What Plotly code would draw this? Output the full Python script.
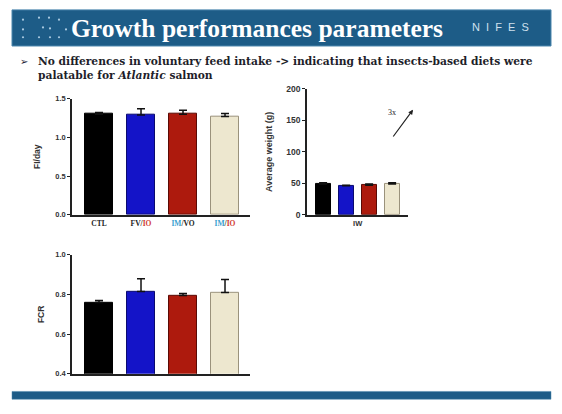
import plotly.graph_objects as go

# ---------------- data ----------------
diets = ["CTL", "FV/IO", "IM/VO", "IM/IO"]
diet_ticktext = [
    "CTL",
    "FV/<span style='color:#d23a30'>IO</span>",
    "<span style='color:#3a9fd0'>IM</span>/VO",
    "<span style='color:#3a9fd0'>IM</span>/<span style='color:#d23a30'>IO</span>",
]
fi_day = [1.30, 1.29, 1.30, 1.27]
fi_day_err = [0.02, 0.08, 0.05, 0.04]
weight_iw = [49, 46, 47, 49]
weight_iw_err = [2, 1, 2, 2]
fcr = [0.76, 0.815, 0.795, 0.81]
fcr_err = [0.01, 0.065, 0.01, 0.065]
bar_colors = ["#000000", "#1414c8", "#ad1a0d", "#ede7cf"]
bar_lines = ["#000000", "#0a0a70", "#5a0a05", "#9a927c"]

W, H = 562, 414
def px(x):
    return x / W
def py(y):
    return 1 - y / H

fig = go.Figure()
xs = list(range(len(diets)))

def add_bars(vals, errs, xa, ya, width):
    fig.add_trace(go.Bar(
        x=xs, y=vals, width=width, xaxis=xa, yaxis=ya,
        marker=dict(color=bar_colors, line=dict(color=bar_lines, width=1)),
        error_y=dict(type="data", array=errs, arrayminus=[0] * len(errs),
                     symmetric=False, color="#111111", thickness=1.5, width=4),
        hoverinfo="skip",
    ))

add_bars(fi_day, fi_day_err, "x", "y", 0.667)
add_bars(weight_iw, weight_iw_err, "x2", "y2", 0.65)
add_bars(fcr, fcr_err, "x3", "y3", 0.667)

axis_common = dict(showgrid=False, zeroline=False, showline=True,
                   linecolor="#222222", linewidth=1.5)
tickfont = dict(family="Liberation Sans", size=7.5, color="#333333", weight="bold")
ytitle_font = dict(family="Liberation Sans", size=8.5, color="#333333", weight="bold")

fig.update_layout(
    width=W, height=H, margin=dict(l=0, r=0, t=0, b=0),
    paper_bgcolor="white", plot_bgcolor="white", showlegend=False,
    bargap=0,
    xaxis=dict(domain=[px(72), px(250)], range=[-0.643, 3.595], anchor="y",
               tickvals=xs, ticktext=diet_ticktext, ticks="",
               tickfont=dict(family="Liberation Serif", size=7.5, color="#222222", weight="bold"),
               **axis_common),
    yaxis=dict(domain=[py(215), py(96)], range=[0, 1.5], anchor="x",
               tickvals=[0, 0.5, 1.0, 1.5], tickformat=".1f",
               ticks="outside", ticklen=3, tickwidth=1, tickcolor="#222222",
               tickfont=tickfont,
               title=dict(text="FI/day", font=ytitle_font, standoff=13),
               **axis_common),
    xaxis2=dict(domain=[px(307), px(408)], range=[-0.7, 3.69], anchor="y2",
                tickvals=[1.5], ticktext=["IW"], ticks="",
                tickfont=dict(family="Liberation Sans", size=7.5, color="#333333", weight="bold"),
                **axis_common),
    yaxis2=dict(domain=[py(215), py(86)], range=[0, 200], anchor="x2",
                tickvals=[0, 50, 100, 150, 200],
                ticks="outside", ticklen=3, tickwidth=1, tickcolor="#222222",
                tickfont=dict(family="Liberation Sans", size=8.5, color="#333333", weight="bold"),
                title=dict(text="Average weight (g)", font=dict(family="Liberation Sans", size=9, color="#333333", weight="bold"), standoff=12),
                **axis_common),
    xaxis3=dict(domain=[px(72), px(250)], range=[-0.643, 3.595], anchor="y3",
                tickvals=xs, ticktext=["", "", "", ""], ticks="",
                **axis_common),
    yaxis3=dict(domain=[py(378), py(256)], range=[0.4, 1.0], anchor="x3",
                tickvals=[0.4, 0.6, 0.8, 1.0], tickformat=".1f",
                ticks="outside", ticklen=3, tickwidth=1, tickcolor="#222222",
                tickfont=tickfont,
                title=dict(text="FCR", font=ytitle_font, standoff=9),
                **axis_common),
)

shapes = []
# title bar
shapes.append(dict(type="rect", xref="paper", yref="paper",
                   x0=px(12), x1=px(551), y0=py(42), y1=py(5),
                   fillcolor="#1d5c87", line=dict(color="#4a86ad", width=1), layer="below"))
# bottom stripe
shapes.append(dict(type="rect", xref="paper", yref="paper",
                   x0=px(12), x1=px(551), y0=py(404), y1=py(396),
                   fillcolor="#1d5c87", line=dict(color="#4a86ad", width=0.5), layer="below"))
# decorative dots in title bar
dots = [(23, 15), (39, 13), (49, 13), (59, 15), (23, 25), (43, 23), (50, 24),
        (66, 25), (23, 33), (39, 33), (50, 33), (59, 33)]
for (dx, dy) in dots:
    shapes.append(dict(type="circle", xref="paper", yref="paper",
                       x0=px(dx - 1.1), x1=px(dx + 1.1), y0=py(dy + 1.1), y1=py(dy - 1.1),
                       fillcolor="#a9c9e0", line=dict(width=0)))
fig.update_layout(shapes=shapes)

annotations = [
    dict(text="<b>Growth performances parameters</b>", x=px(69), y=py(24),
         font=dict(family="Liberation Serif", size=25.5, color="white")),
    dict(text="N &nbsp;I &nbsp;F &nbsp;E &nbsp;S", x=px(470), y=py(23),
         font=dict(family="Liberation Sans", size=11, color="#cfe0ee")),
    dict(text="\u27a2", x=px(18), y=py(58),
         font=dict(family="DejaVu Sans", size=10, color="#222233")),
    dict(text="<b>No differences in voluntary feed intake -> indicating that insects-based diets were</b>",
         x=px(36), y=py(58),
         font=dict(family="DejaVu Serif", size=10.7, color="#1e1e2a")),
    dict(text="<b>palatable for <i>Atlantic</i> salmon</b>", x=px(36), y=py(72),
         font=dict(family="DejaVu Serif", size=10.7, color="#1e1e2a")),
    dict(text="3x", xref="x2", yref="y2", x=3.0, y=162, xanchor="center",
         font=dict(family="Liberation Serif", size=8, color="#222222")),
]
for a in annotations:
    a.setdefault("xref", "paper")
    a.setdefault("yref", "paper")
    a.setdefault("xanchor", "left")
    a.setdefault("yanchor", "middle")
    a["showarrow"] = False
# arrow in weight chart
annotations.append(dict(xref="x2", yref="y2", axref="x2", ayref="y2",
                        x=3.91, y=167, ax=3.0, ay=122, text="",
                        showarrow=True, arrowhead=2, arrowsize=0.8, arrowwidth=1.2,
                        arrowcolor="#222222"))
fig.update_layout(annotations=annotations)

fig.write_html("out.html", config={"displayModeBar": False},
               post_script="document.body.style.margin='0';")
